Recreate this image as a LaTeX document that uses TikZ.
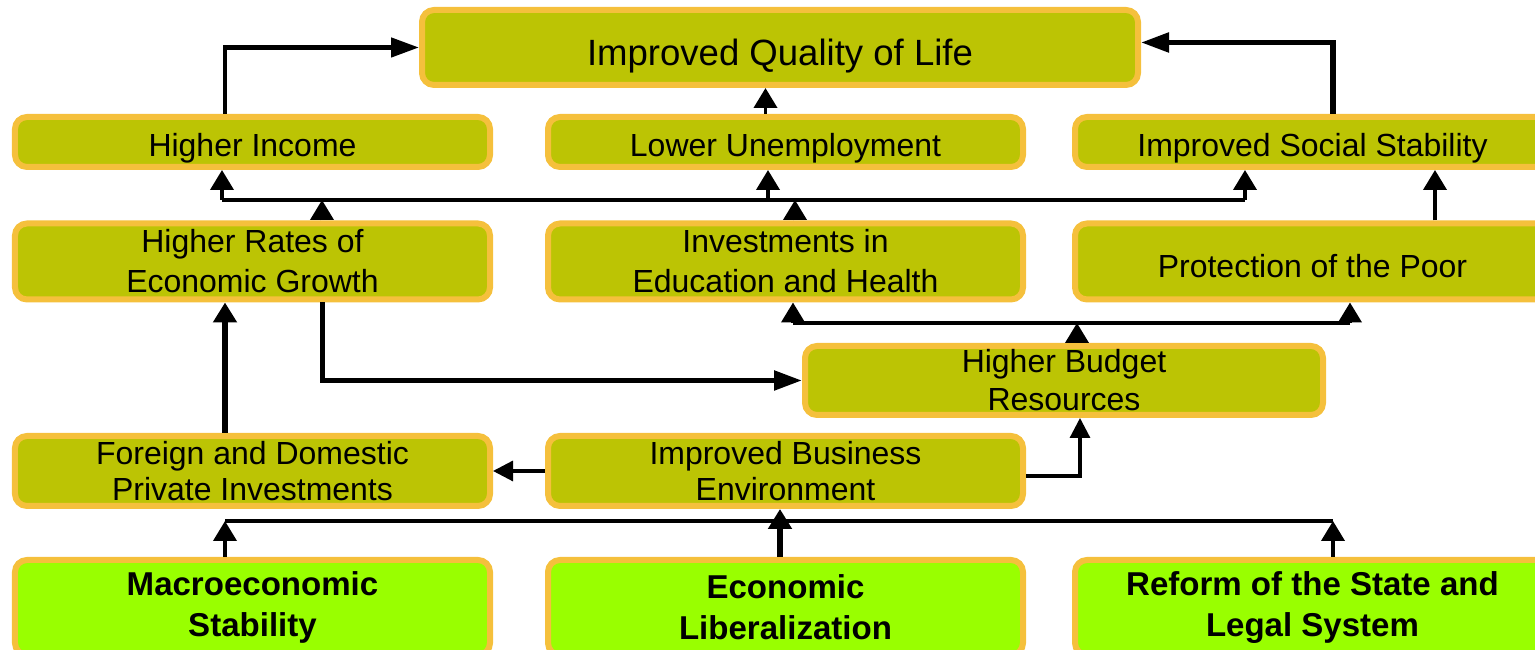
\documentclass[tikz,border=0pt]{standalone}
\usepackage{fontspec}
\setmainfont{Liberation Sans}
\usepackage{tikz}
\usetikzlibrary{calc,arrows.meta}
\definecolor{boxfill}{RGB}{188,196,4}
\definecolor{boxline}{RGB}{245,192,60}
\definecolor{basefill}{RGB}{153,255,0}

\begin{document}
\begin{tikzpicture}[
		every node/.style={draw=boxline,line width=0.6mm,rounded corners=1.2mm,fill=boxfill,
			align=center,inner sep=0pt,tx={3.5mm}{11.4pt}},
		tx/.style 2 args={font=\fontsize{9.1}{#2}\selectfont\rule{0pt}{#1}},
		B/.style={minimum width=4.75cm,minimum height=0.5cm},
		BB/.style={minimum width=4.75cm,minimum height=0.76cm,tx={2.9mm}{11.4pt}},
		base/.style={B,minimum height=0.95cm,fill=basefill,font=\fontsize{9.4}{11.6}\selectfont\bfseries},
		arr/.style={-{Triangle[length=2mm,width=2.3mm]},line width=1.1pt},
		bigarr/.style={-{Triangle[length=2.8mm,width=1.9mm]},line width=1.3pt},
		thinarr/.style={-{Triangle[length=2mm,width=2mm]},line width=0.9pt}
	]
	\useasboundingbox (0,0) rectangle (15.35,6.5);
	\clip (0,0) rectangle (15.35,6.5);

	%top box
		\node[minimum width=7.16cm,minimum height=0.75cm,font=\fontsize{10.4}{12.5}\selectfont\rule{0pt}{4.3mm}] (life) at (7.80,6.025) {Improved Quality of Life};
	%outcome rows
		\foreach \n/\x/\t in {income/2.525/Higher Income, unemp/7.855/Lower Unemployment, social/13.125/Improved Social Stability}
			\node[B] (\n) at (\x,5.08) {\t};
		\foreach \n/\x/\t in {growth/2.525/{Higher Rates of\\Economic Growth}, invest/7.855/{Investments in\\Education and Health}}
			\node[BB] (\n) at (\x,3.885) {\t};
		\node[BB,tx={3.3mm}{11.4pt}] (poor) at (13.125,3.885) {Protection of the Poor};
		\node[minimum width=5.18cm,minimum height=0.69cm,tx={2.9mm}{10.8pt}] (budget) at (10.64,2.695) {Higher Budget\\Resources};
		\foreach \n/\x/\t in {private/2.525/{Foreign and Domestic\\Private Investments}, business/7.855/{Improved Business\\Environment}}
			\node[B,minimum height=0.7cm,tx={3mm}{10.3pt}] (\n) at (\x,1.79) {\t};
	%reforms
		\foreach \n/\x/\t in {macro/2.525/{Macroeconomic\\Stability}, econ/7.855/{Economic\\Liberalization}, reform/13.125/{Reform of the State and\\Legal System}}
			\node[base] (\n) at (\x,0.425) {\t};

	%bus lines
		\coordinate (busAl) at (2.22,4.5);
		\coordinate (busAr) at (12.45,4.5);
		\coordinate (busBl) at (7.93,3.27);
		\coordinate (busBr) at (13.5,3.27);
		\coordinate (busCl) at (2.25,1.29);
		\coordinate (busCr) at (13.33,1.29);
		\draw[line width=1.1pt] (busAl) -- (busAr);
		\draw[line width=1.1pt] (busBl) -- (busBr);
		\draw[line width=1.1pt] (busCl) -- (busCr);

	%arrows to the top
		\draw[bigarr] ([xshift=-2.75mm]income.north) |- (life.west);
		\draw[arr] ([xshift=-2mm]unemp.north) -- ([xshift=-2mm]unemp.north |- life.south);
		\draw[bigarr,line width=1.5pt] ([xshift=2.05mm]social.north) |- ([yshift=0.5mm]life.east);
	%first bus
		\draw[arr] (busAl) -- (busAl |- income.south);
		\draw[arr] ([xshift=-1.75mm]unemp.south |- busAl) -- ([xshift=-1.75mm]unemp.south);
		\draw[arr] (busAr) -- (busAr |- social.south);
		\draw[arr] ([xshift=6.95mm]growth.north) -- ([xshift=6.95mm]growth.north |- busAl);
		\draw[arr] ([xshift=0.95mm]invest.north) -- ([xshift=0.95mm]invest.north |- busAl);
		\draw[arr] ([xshift=12.25mm]poor.north) -- ([xshift=12.25mm]poor.north |- social.south);
	%second bus
		\draw[arr] (busBl) -- (busBl |- invest.south);
		\draw[arr] (busBr) -- (busBr |- poor.south);
		\draw[arr] ([xshift=1.3mm]budget.north) -- ([xshift=1.3mm]budget.north |- busBl);
	%middle
		\draw[bigarr,line width=1.5pt] ([xshift=7mm]growth.south) |- (budget.west);
		\draw[arr,line width=1.8pt] ([xshift=-2.75mm]private.north) -- ([xshift=-2.75mm]growth.south);
		\draw[thinarr] (business.west) -- (private.east);
		\draw[thinarr] ([yshift=-0.5mm]business.east) -| ([xshift=1.6mm]budget.south);
	%third bus
		\draw[arr] (busCl |- macro.north) -- (busCl);
		\draw[arr] (busCr |- reform.north) -- (busCr);
		\draw[arr,line width=1.5pt] ([xshift=-0.55mm]econ.north) -- ([xshift=-0.55mm]business.south);
\end{tikzpicture}
\end{document}
